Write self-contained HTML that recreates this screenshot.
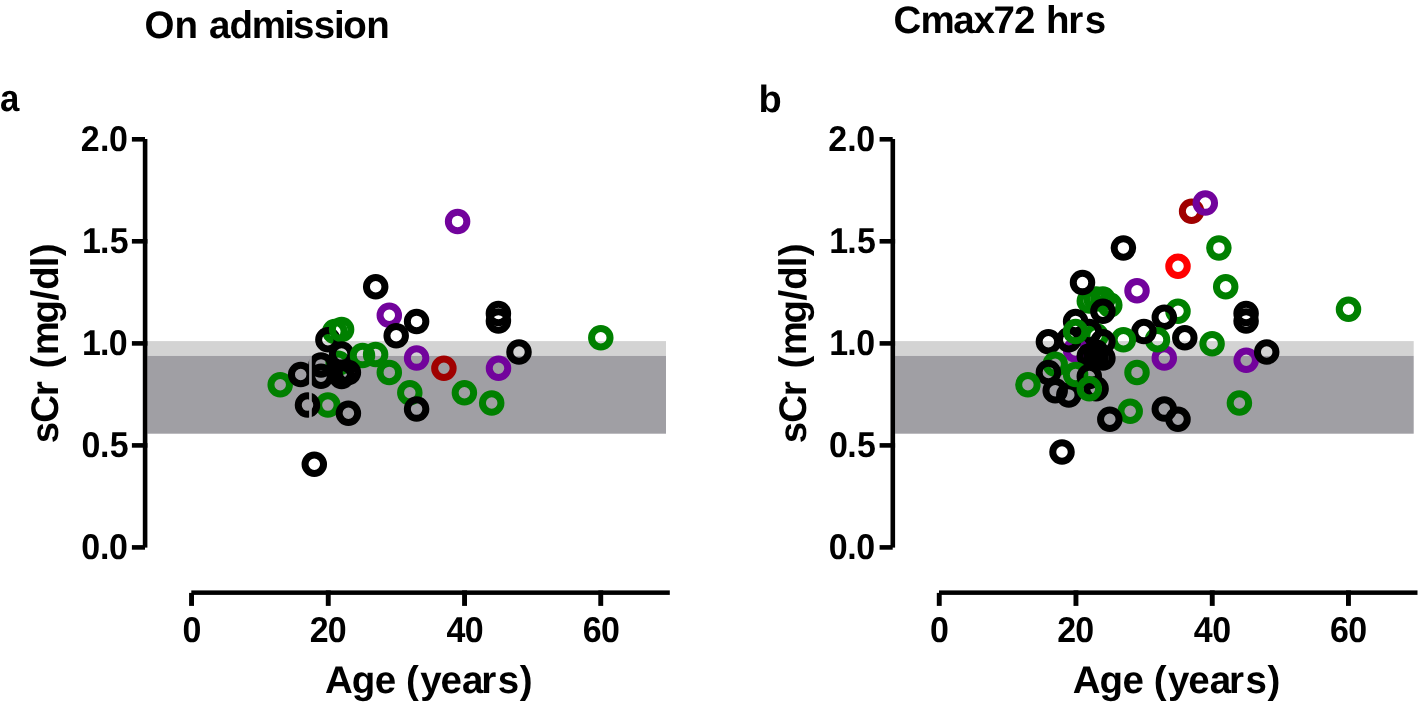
<!DOCTYPE html>
<html><head><meta charset="utf-8"><style>
html,body{margin:0;padding:0;background:#fff;}
svg{display:block;will-change:transform;}
text{font-family:"Liberation Sans",sans-serif;font-weight:bold;fill:#000;text-rendering:geometricPrecision;}
circle{fill:none;stroke-width:7.0;}
</style></head><body>
<svg width="1419" height="707" viewBox="0 0 1419 707">
<rect width="1419" height="707" fill="#fff"/>
<rect x="147.4" y="341.1" width="518.6" height="14.8" fill="#d3d3d3"/>
<rect x="147.4" y="355.9" width="518.6" height="77.8" fill="#a09fa4"/>
<rect x="895.1" y="341.1" width="518.6" height="14.8" fill="#d3d3d3"/>
<rect x="895.1" y="355.9" width="518.6" height="77.8" fill="#a09fa4"/>
<circle cx="389.3" cy="315.3" r="9.25" stroke="#72039c"/>
<circle cx="375.7" cy="286.7" r="9.25" stroke="#000000"/>
<circle cx="396.2" cy="335.7" r="9.25" stroke="#000000"/>
<circle cx="416.6" cy="321.4" r="9.25" stroke="#000000"/>
<circle cx="457.6" cy="221.4" r="9.25" stroke="#72039c"/>
<circle cx="498.4" cy="313.4" r="9.25" stroke="#000000"/>
<circle cx="498.4" cy="320.9" r="9.25" stroke="#000000"/>
<circle cx="600.8" cy="337.7" r="9.25" stroke="#008000"/>
<circle cx="519.0" cy="352.0" r="9.25" stroke="#000000"/>
<circle cx="334.8" cy="331.6" r="9.25" stroke="#008000"/>
<circle cx="327.9" cy="339.8" r="9.25" stroke="#000000"/>
<circle cx="341.6" cy="329.6" r="9.25" stroke="#008000"/>
<circle cx="338.2" cy="363.2" r="9.25" stroke="#008000"/>
<circle cx="341.6" cy="354.1" r="9.25" stroke="#000000"/>
<circle cx="362.5" cy="355.6" r="9.25" stroke="#008000"/>
<circle cx="375.6" cy="354.5" r="9.25" stroke="#008000"/>
<circle cx="389.3" cy="372.4" r="9.25" stroke="#008000"/>
<circle cx="416.6" cy="358.1" r="9.25" stroke="#72039c"/>
<circle cx="443.9" cy="368.3" r="9.25" stroke="#a00000"/>
<circle cx="498.5" cy="368.3" r="9.25" stroke="#72039c"/>
<circle cx="464.4" cy="392.8" r="9.25" stroke="#008000"/>
<circle cx="491.7" cy="403.0" r="9.25" stroke="#008000"/>
<circle cx="409.8" cy="392.8" r="9.25" stroke="#008000"/>
<circle cx="416.6" cy="409.1" r="9.25" stroke="#000000"/>
<circle cx="280.2" cy="384.7" r="9.25" stroke="#008000"/>
<circle cx="300.7" cy="374.5" r="9.25" stroke="#000000"/>
<circle cx="327.9" cy="405.1" r="9.25" stroke="#008000"/>
<circle cx="307.5" cy="405.1" r="9.25" stroke="#000000"/>
<circle cx="348.4" cy="413.2" r="9.25" stroke="#000000"/>
<circle cx="341.6" cy="372.4" r="9.25" stroke="#000000"/>
<circle cx="348.4" cy="372.4" r="9.25" stroke="#000000"/>
<circle cx="341.6" cy="376.5" r="9.25" stroke="#000000"/>
<circle cx="321.0" cy="364.9" r="9.25" stroke="#000000"/>
<circle cx="321.0" cy="376.2" r="9.25" stroke="#000000"/>
<circle cx="314.3" cy="464.2" r="9.25" stroke="#000000"/>
<circle cx="1191.6" cy="211.2" r="9.25" stroke="#a00000"/>
<circle cx="1205.3" cy="203.1" r="9.25" stroke="#72039c"/>
<circle cx="1123.4" cy="247.9" r="9.25" stroke="#000000"/>
<circle cx="1178.0" cy="266.3" r="9.25" stroke="#ff0000"/>
<circle cx="1218.9" cy="247.9" r="9.25" stroke="#008000"/>
<circle cx="1225.7" cy="286.7" r="9.25" stroke="#008000"/>
<circle cx="1137.0" cy="290.8" r="9.25" stroke="#72039c"/>
<circle cx="1178.0" cy="311.2" r="9.25" stroke="#008000"/>
<circle cx="1164.3" cy="317.3" r="9.25" stroke="#000000"/>
<circle cx="1164.3" cy="358.1" r="9.25" stroke="#72039c"/>
<circle cx="1157.5" cy="339.8" r="9.25" stroke="#008000"/>
<circle cx="1143.9" cy="331.6" r="9.25" stroke="#000000"/>
<circle cx="1184.8" cy="337.7" r="9.25" stroke="#000000"/>
<circle cx="1212.1" cy="343.8" r="9.25" stroke="#008000"/>
<circle cx="1246.1" cy="313.4" r="9.25" stroke="#000000"/>
<circle cx="1246.1" cy="320.9" r="9.25" stroke="#000000"/>
<circle cx="1246.2" cy="360.2" r="9.25" stroke="#72039c"/>
<circle cx="1266.7" cy="352.0" r="9.25" stroke="#000000"/>
<circle cx="1239.4" cy="403.0" r="9.25" stroke="#008000"/>
<circle cx="1164.3" cy="409.1" r="9.25" stroke="#000000"/>
<circle cx="1178.0" cy="419.3" r="9.25" stroke="#000000"/>
<circle cx="1348.5" cy="309.2" r="9.25" stroke="#008000"/>
<circle cx="1137.0" cy="372.4" r="9.25" stroke="#008000"/>
<circle cx="1130.2" cy="411.2" r="9.25" stroke="#008000"/>
<circle cx="1109.8" cy="419.3" r="9.25" stroke="#000000"/>
<circle cx="1062.0" cy="452.0" r="9.25" stroke="#000000"/>
<circle cx="1123.4" cy="339.8" r="9.25" stroke="#008000"/>
<circle cx="1089.3" cy="301.0" r="9.25" stroke="#008000"/>
<circle cx="1096.1" cy="299.0" r="9.25" stroke="#008000"/>
<circle cx="1102.9" cy="299.0" r="9.25" stroke="#008000"/>
<circle cx="1109.8" cy="305.1" r="9.25" stroke="#008000"/>
<circle cx="1102.9" cy="311.2" r="9.25" stroke="#000000"/>
<circle cx="1082.5" cy="282.6" r="9.25" stroke="#000000"/>
<circle cx="1096.1" cy="335.7" r="9.25" stroke="#008000"/>
<circle cx="1089.3" cy="331.6" r="9.25" stroke="#000000"/>
<circle cx="1075.6" cy="350.0" r="9.25" stroke="#72039c"/>
<circle cx="1068.8" cy="339.8" r="9.25" stroke="#000000"/>
<circle cx="1075.6" cy="321.4" r="9.25" stroke="#000000"/>
<circle cx="1075.6" cy="331.6" r="9.25" stroke="#008000"/>
<circle cx="1048.4" cy="341.8" r="9.25" stroke="#000000"/>
<circle cx="1089.3" cy="356.1" r="9.25" stroke="#000000"/>
<circle cx="1096.1" cy="352.0" r="9.25" stroke="#000000"/>
<circle cx="1102.9" cy="358.1" r="9.25" stroke="#000000"/>
<circle cx="1096.1" cy="358.1" r="9.25" stroke="#000000"/>
<circle cx="1102.9" cy="341.8" r="9.25" stroke="#000000"/>
<circle cx="1055.2" cy="364.3" r="9.25" stroke="#008000"/>
<circle cx="1048.4" cy="372.4" r="9.25" stroke="#000000"/>
<circle cx="1027.9" cy="384.7" r="9.25" stroke="#008000"/>
<circle cx="1055.2" cy="390.8" r="9.25" stroke="#000000"/>
<circle cx="1068.8" cy="394.9" r="9.25" stroke="#000000"/>
<circle cx="1075.6" cy="374.5" r="9.25" stroke="#008000"/>
<circle cx="1089.3" cy="376.5" r="9.25" stroke="#000000"/>
<circle cx="1096.1" cy="388.7" r="9.25" stroke="#000000"/>
<circle cx="1089.3" cy="388.7" r="9.25" stroke="#008000"/>
<rect x="309.1" y="355.9" width="2.7" height="64" fill="#a09fa4"/>
<rect x="142.8" y="139.0" width="4.6" height="408.6" fill="#000"/>
<rect x="131.9" y="137.0" width="13.1" height="4.6" fill="#000"/>
<rect x="131.9" y="239.0" width="15.5" height="4.6" fill="#000"/>
<rect x="131.9" y="341.1" width="15.5" height="4.6" fill="#000"/>
<rect x="131.9" y="443.1" width="15.5" height="4.6" fill="#000"/>
<rect x="131.9" y="545.1" width="13.1" height="4.6" fill="#000"/>
<rect x="191.3" y="590.4" width="478.5" height="4.5" fill="#000"/>
<rect x="189.1" y="592.9" width="4.9" height="13.0" fill="#000"/>
<rect x="325.8" y="590.4" width="4.9" height="15.5" fill="#000"/>
<rect x="462.1" y="590.4" width="4.9" height="15.5" fill="#000"/>
<rect x="598.3" y="590.4" width="4.9" height="15.5" fill="#000"/>
<rect x="890.5" y="139.0" width="4.6" height="408.6" fill="#000"/>
<rect x="879.6" y="137.0" width="13.1" height="4.6" fill="#000"/>
<rect x="879.6" y="239.0" width="15.5" height="4.6" fill="#000"/>
<rect x="879.6" y="341.1" width="15.5" height="4.6" fill="#000"/>
<rect x="879.6" y="443.1" width="15.5" height="4.6" fill="#000"/>
<rect x="879.6" y="545.1" width="13.1" height="4.6" fill="#000"/>
<rect x="939.0" y="590.4" width="478.5" height="4.5" fill="#000"/>
<rect x="936.8" y="592.9" width="4.9" height="13.0" fill="#000"/>
<rect x="1073.5" y="590.4" width="4.9" height="15.5" fill="#000"/>
<rect x="1209.8" y="590.4" width="4.9" height="15.5" fill="#000"/>
<rect x="1346.0" y="590.4" width="4.9" height="15.5" fill="#000"/>
<text x="85.53 105.71 115.30" y="150.75" transform="scale(0.945,1)" style="font-size:35.9px">2.0</text>
<text x="86.73 105.71 116.04" y="252.80" transform="scale(0.945,1)" style="font-size:35.9px">1.5</text>
<text x="86.73 105.71 115.09" y="354.85" transform="scale(0.945,1)" style="font-size:35.9px">1.0</text>
<text x="86.30 105.71 116.04" y="456.85" transform="scale(0.945,1)" style="font-size:35.9px">0.5</text>
<text x="86.09 105.71 115.30" y="558.85" transform="scale(0.945,1)" style="font-size:35.9px">0.0</text>
<text x="193.18" y="642.00" transform="scale(0.945,1)" style="font-size:35.9px">0</text>
<text x="327.86 346.83" y="642.00" transform="scale(0.945,1)" style="font-size:35.9px">20</text>
<text x="472.37 491.81" y="642.00" transform="scale(0.945,1)" style="font-size:35.9px">40</text>
<text x="616.57 635.93" y="642.00" transform="scale(0.945,1)" style="font-size:35.9px">60</text>
<text x="325.04 351.72 374.70 396.11 406.08 420.30 440.60 462.07 481.36 497.75 519.86" y="693.00" style="font-size:38.5px">Age (years)</text>
<text transform="translate(57.90,460.0) rotate(-90)" x="16.85 37.32 63.86 78.84 91.58 104.76 136.42 159.52 170.32 192.71 203.76" y="0" style="font-size:38.5px">sCr (mg/dl)</text>
<text x="876.43 896.61 906.20" y="150.75" transform="scale(0.945,1)" style="font-size:35.9px">2.0</text>
<text x="877.63 896.61 906.94" y="252.80" transform="scale(0.945,1)" style="font-size:35.9px">1.5</text>
<text x="877.63 896.61 905.99" y="354.85" transform="scale(0.945,1)" style="font-size:35.9px">1.0</text>
<text x="877.20 896.61 906.94" y="456.85" transform="scale(0.945,1)" style="font-size:35.9px">0.5</text>
<text x="876.99 896.61 906.20" y="558.85" transform="scale(0.945,1)" style="font-size:35.9px">0.0</text>
<text x="984.08" y="642.00" transform="scale(0.945,1)" style="font-size:35.9px">0</text>
<text x="1118.76 1137.73" y="642.00" transform="scale(0.945,1)" style="font-size:35.9px">20</text>
<text x="1263.27 1282.71" y="642.00" transform="scale(0.945,1)" style="font-size:35.9px">40</text>
<text x="1407.47 1426.83" y="642.00" transform="scale(0.945,1)" style="font-size:35.9px">60</text>
<text x="1072.74 1099.42 1122.40 1143.81 1153.78 1168.00 1188.30 1209.77 1229.06 1245.45 1267.56" y="693.00" style="font-size:38.5px">Age (years)</text>
<text transform="translate(805.60,460.0) rotate(-90)" x="16.85 37.32 63.86 78.84 91.58 104.76 136.42 159.52 170.32 192.71 203.76" y="0" style="font-size:38.5px">sCr (mg/dl)</text>
<text x="144.62 174.56 198.08 208.97 229.62 251.86 284.31 293.05 313.75 334.11 343.20 366.36" y="37.90" style="font-size:38.5px">On admission</text>
<text x="893.52 920.46 953.17 973.44 993.45 1014.07 1035.48 1046.11 1068.26 1084.65" y="33.00" style="font-size:38.5px">Cmax72 hrs</text>
<text x="-0.02" y="111.20" transform="scale(0.92,1)" style="font-size:37.8px">a</text>
<text x="758.53" y="111.70" style="font-size:38.0px;letter-spacing:0.000px">b</text>
</svg>
</body></html>
